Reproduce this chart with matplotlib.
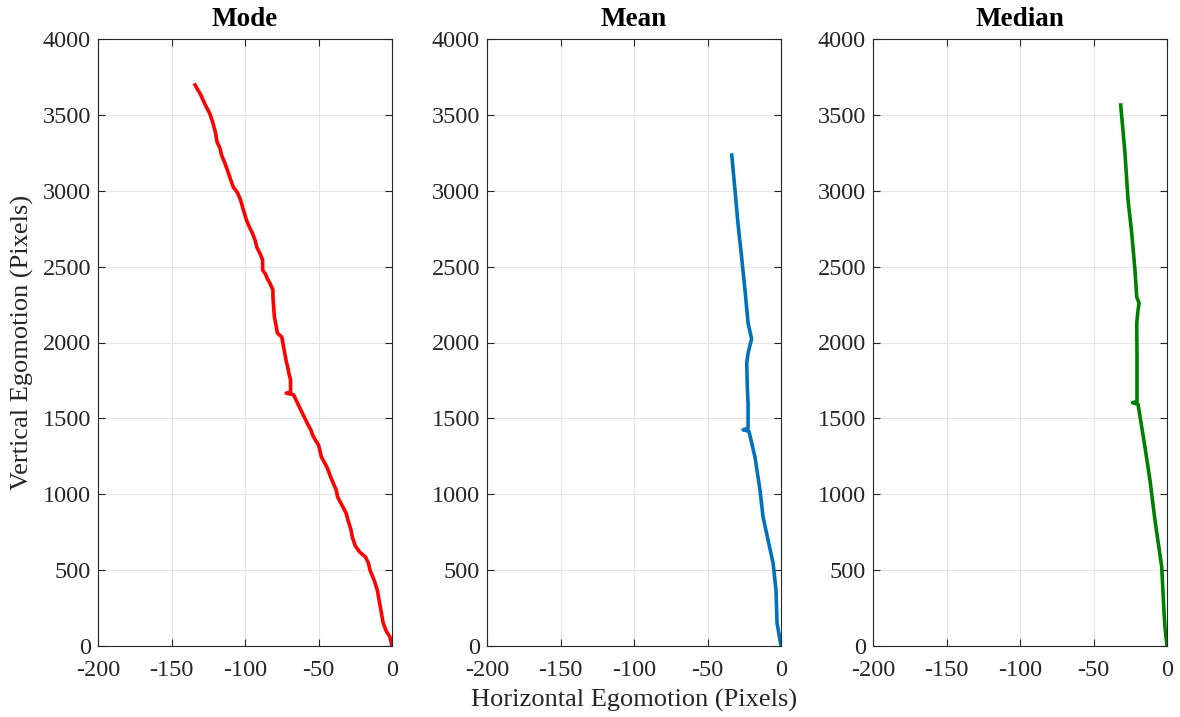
import numpy as np
import matplotlib
matplotlib.use('Agg')
import matplotlib.pyplot as plt

plt.rcParams['font.family'] = ['Liberation Serif', 'DejaVu Serif']
plt.rcParams['axes.unicode_minus'] = False

# Trajectories (horizontal px, vertical px)
mode_x = [-134, -130, -127, -124, -122, -120, -119, -117, -116, -114, -112, -110, -108, -105, -103,
          -101, -99, -97, -95, -93, -92, -90, -88, -88, -86, -85, -83, -81, -81, -81, -80, -79,
          -78, -76, -75, -74, -73, -72, -71, -70, -69, -69, -72, -67, -64, -61, -59, -57, -55,
          -54, -52, -50, -49, -48, -46, -44, -42, -40, -38, -37, -35, -33, -31, -30, -28, -27,
          -25, -22, -18, -16, -15, -12, -10, -8, -6, -4, -1.4, 0]
mode_y = [3697, 3630, 3565, 3510, 3453, 3380, 3321, 3280, 3236, 3190, 3137, 3080, 3025, 2985, 2939,
          2870, 2807, 2760, 2722, 2670, 2629, 2590, 2544, 2478, 2450, 2425, 2390, 2346, 2320, 2300, 2168, 2120,
          2063, 2045, 2036, 1985, 1931, 1880, 1839, 1790, 1753, 1672, 1666, 1656, 1595, 1535, 1495, 1456, 1420,
          1390, 1355, 1325, 1285, 1245, 1210, 1173, 1120, 1074, 1030, 982, 945, 909, 870, 830, 770, 718,
          660, 619, 586, 545, 501, 430, 369, 260, 152, 100, 59, 0]

mean_x = [-33.5, -31.3, -29.3, -26.8, -24.5, -22.4, -20, -22.4, -23.3, -22.9, -22.4, -22.4, -25.8,
          -21.8, -17.7, -14.3, -12.2, -8.8, -5.4, -3.4, -2.7, 0]
mean_y = [3235, 3005, 2787, 2563, 2346, 2128, 2023, 1931, 1865, 1700, 1600, 1435, 1425,
          1415, 1245, 1028, 850, 698, 547, 369, 152, 0]

median_x = [-31.5, -28.6, -26.5, -24, -21.8, -20.6, -19, -19.7, -20.6, -20.4, -20.4, -20.4, -23.4,
            -19.7, -15, -11.6, -8.2, -3.6, -2, -1.4, 0]
median_y = [3565, 3249, 2939, 2722, 2478, 2300, 2260, 2214, 2128, 1904, 1753, 1612, 1603,
            1593, 1311, 1094, 830, 521, 217, 125, 0]

titles = ['Mode', 'Mean', 'Median']
colors = ['#FF0000', '#0072BD', '#008000']
xticks = [-200, -150, -100, -50, 0]
yticks = [0, 500, 1000, 1500, 2000, 2500, 3000, 3500, 4000]

fig = plt.figure(figsize=(11.8, 7.17), dpi=100)
lefts = [98 / 1180, 487 / 1180, 873 / 1180]
bottom = 71 / 717
width = 294 / 1180
height = 607 / 717

data = [(mode_x, mode_y), (mean_x, mean_y), (median_x, median_y)]
axes = []
for i, (xs, ys) in enumerate(data):
    ax = fig.add_axes([lefts[i], bottom, width, height])
    ax.plot(xs, ys, color=colors[i], linewidth=2.6, solid_joinstyle='round')
    ax.set_xlim(-200, 0)
    ax.set_ylim(0, 4000)
    ax.set_xticks(xticks)
    ax.set_yticks(yticks)
    ax.grid(True, color='#e6e6e6', linewidth=0.8)
    ax.set_axisbelow(True)
    ax.tick_params(direction='in', top=True, right=True, labelsize=17.5,
                   colors='#262626', length=5, width=0.8, pad=5)
    ax.tick_params(axis='x', pad=10)
    for s in ax.spines.values():
        s.set_color('#262626')
        s.set_linewidth(0.8)
    ax.set_title(titles[i], fontsize=19.5, fontweight='bold', pad=9)
    axes.append(ax)

axes[0].set_ylabel('Vertical Egomotion (Pixels)', fontsize=19, color='#262626', labelpad=6)
axes[1].set_xlabel('Horizontal Egomotion (Pixels)', fontsize=19, color='#262626', labelpad=6)

fig.savefig('out.png', dpi=100)
